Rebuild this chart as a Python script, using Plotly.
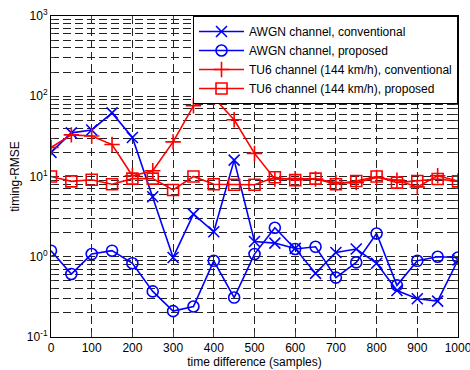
import plotly.graph_objects as go

x = [0, 50, 100, 150, 200, 250, 300, 350, 400, 450, 500, 550, 600, 650, 700, 750, 800, 850, 900, 950, 1000]
awgn_conv = [20, 35, 38, 62, 30.6, 5.6, 0.98, 3.4, 2.05, 16, 1.55, 1.48, 1.27, 0.62, 1.13, 1.25, 0.83, 0.38, 0.30, 0.28, 0.91]
awgn_prop = [1.19, 0.61, 1.08, 1.19, 0.83, 0.37, 0.21, 0.24, 0.89, 0.31, 1.08, 2.3, 1.25, 1.33, 0.55, 0.85, 1.95, 0.44, 0.89, 1.0, 0.98]
tu6_conv = [23, 33, 32, 25, 10.2, 11.8, 27, 76, 96, 51, 19.4, 9.3, 9.4, 9.3, 8.4, 8.4, 9.7, 9.0, 7.4, 10.2, 8.8]
tu6_prop = [10, 8.7, 9.1, 8.0, 9.4, 9.4, 6.8, 10, 8.0, 7.9, 7.9, 9.8, 9.0, 9.4, 8.0, 8.8, 10, 8.4, 8.8, 9.3, 8.7]
names = ["AWGN channel, conventional", "AWGN channel, proposed",
         "TU6 channel (144 km/h), conventional", "TU6 channel (144 km/h), proposed"]
x_ticks = [0, 100, 200, 300, 400, 500, 600, 700, 800, 900, 1000]
y_ticks = [0.1, 1, 10, 100, 1000]
y_ticktext = ["10<sup>-1</sup>", "10<sup>0</sup>", "10<sup>1</sup>", "10<sup>2</sup>", "10<sup>3</sup>"]

series = [
    (awgn_conv, "blue", "x-thin-open"),
    (awgn_prop, "blue", "circle-open"),
    (tu6_conv, "red", "cross-thin-open"),
    (tu6_prop, "red", "square-open"),
]

fig = go.Figure()
for (vals, col, sym), nm in zip(series, names):
    fig.add_trace(go.Scatter(
        x=x, y=vals, name=nm, mode="lines+markers",
        line=dict(color=col, width=1.6),
        marker=dict(symbol=sym, size=11, color=col, line=dict(color=col, width=1.6)),
    ))

font = dict(family="Liberation Sans, Arial, sans-serif", size=12, color="black")
dash = "8px,4px"
fig.update_layout(
    width=470, height=370,
    margin=dict(l=51, r=12, t=16, b=33),
    paper_bgcolor="white", plot_bgcolor="white",
    font=font,
    showlegend=True,
    legend=dict(x=1, y=1, xanchor="right", yanchor="top",
                bgcolor="white", bordercolor="black", borderwidth=1,
                font=font, itemwidth=45, tracegroupgap=0),
)
fig.update_xaxes(
    range=[0, 1000], tickvals=x_ticks, ticks="inside", ticklen=5,
    showline=True, linecolor="black", linewidth=1, mirror="ticks",
    showgrid=True, gridcolor="#222", griddash=dash, gridwidth=1,
    zeroline=False, automargin=False, tickfont=font, ticklabeloverflow="allow",
    title=dict(text="time difference (samples)", standoff=2, font=font),
)
fig.update_yaxes(
    type="log", range=[-1, 3], tickvals=y_ticks, ticktext=y_ticktext,
    ticks="inside", ticklen=5,
    showline=True, linecolor="black", linewidth=1, mirror="ticks",
    showgrid=True, gridcolor="#222", griddash=dash, gridwidth=1,
    minor=dict(ticks="inside", ticklen=3, showgrid=True, gridcolor="#222",
               griddash=dash, gridwidth=1, dtick="D1"),
    zeroline=False, automargin=False, tickfont=font, ticklabeloverflow="allow",
    title=dict(text="timing-RMSE", standoff=4, font=font),
)
fig.write_html("out.html")
